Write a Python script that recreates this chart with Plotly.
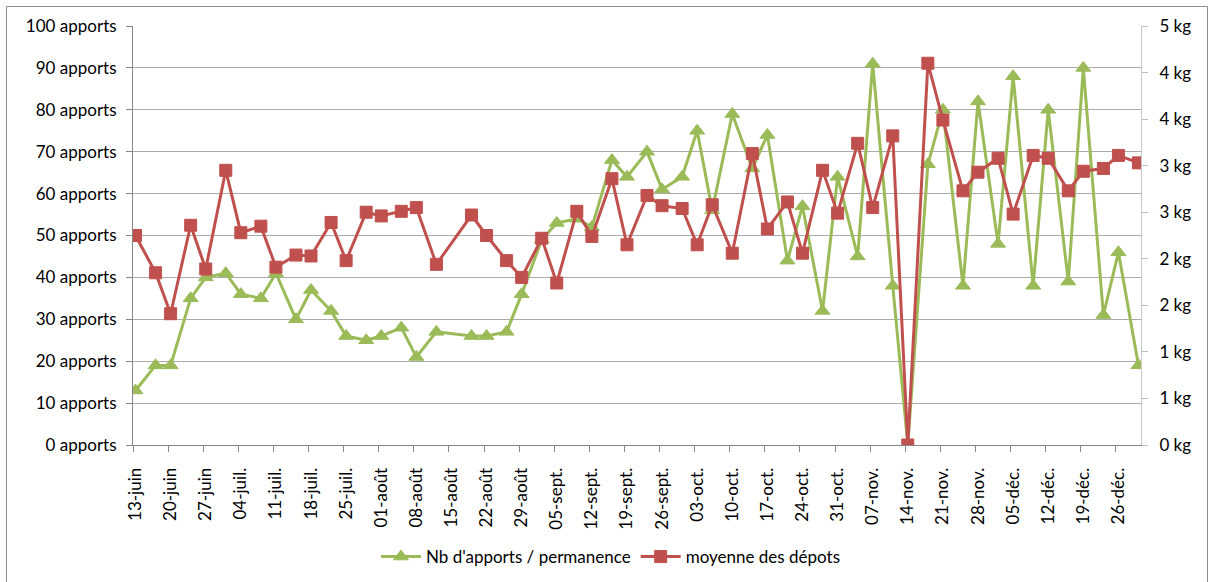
import plotly.graph_objects as go
from datetime import datetime, timedelta

# ---- data ----
dates = ["2011-06-13","2011-06-17","2011-06-20","2011-06-24","2011-06-27","2011-07-01","2011-07-04",
         "2011-07-08","2011-07-11","2011-07-15","2011-07-18","2011-07-22","2011-07-25","2011-07-29",
         "2011-08-01","2011-08-05","2011-08-08","2011-08-12","2011-08-19","2011-08-22","2011-08-26",
         "2011-08-29","2011-09-02","2011-09-05","2011-09-09","2011-09-12","2011-09-16","2011-09-19",
         "2011-09-23","2011-09-26","2011-09-30","2011-10-03","2011-10-06","2011-10-10","2011-10-14",
         "2011-10-17","2011-10-21","2011-10-24","2011-10-28","2011-10-31","2011-11-04","2011-11-07",
         "2011-11-11","2011-11-14","2011-11-18","2011-11-21","2011-11-25","2011-11-28","2011-12-02",
         "2011-12-05","2011-12-09","2011-12-12","2011-12-16","2011-12-19","2011-12-23","2011-12-26",
         "2011-12-30"]

nb_apports = [13, 19, 19, 35, 40, 41, 36, 35, 41, 30,
              37, 32, 26, 25, 26, 28, 21, 27, 26, 26,
              27, 36, 49, 53, 54, 52, 68, 64, 70, 61,
              64, 75, 56, 79, 66, 74, 44, 57, 32, 64,
              45, 91, 38, 0, 67, 80, 38, 82, 48, 88,
              38, 80, 39, 90, 31, 46, 19]

moyenne_kg = [2.25, 1.85, 1.41, 2.36, 1.89, 2.95, 2.28, 2.35, 1.91, 2.04,
              2.03, 2.39, 1.98, 2.50, 2.46, 2.51, 2.55, 1.94, 2.47, 2.25,
              1.98, 1.80, 2.22, 1.74, 2.51, 2.24, 2.86, 2.15, 2.68, 2.57,
              2.54, 2.15, 2.58, 2.06, 3.13, 2.32, 2.61, 2.06, 2.95, 2.49,
              3.24, 2.55, 3.32, 0.00, 4.10, 3.49, 2.73, 2.93, 3.08, 2.48,
              3.11, 3.08, 2.73, 2.94, 2.97, 3.11, 3.03]

x_tick_dates = ["2011-06-13","2011-06-20","2011-06-27","2011-07-04","2011-07-11","2011-07-18",
                "2011-07-25","2011-08-01","2011-08-08","2011-08-15","2011-08-22","2011-08-29",
                "2011-09-05","2011-09-12","2011-09-19","2011-09-26","2011-10-03","2011-10-10",
                "2011-10-17","2011-10-24","2011-10-31","2011-11-07","2011-11-14","2011-11-21",
                "2011-11-28","2011-12-05","2011-12-12","2011-12-19","2011-12-26"]
x_tick_labels = ["13-juin","20-juin","27-juin","04-juil.","11-juil.","18-juil.","25-juil.",
                 "01-août","08-août","15-août","22-août","29-août","05-sept.","12-sept.",
                 "19-sept.","26-sept.","03-oct.","10-oct.","17-oct.","24-oct.","31-oct.",
                 "07-nov.","14-nov.","21-nov.","28-nov.","05-déc.","12-déc.","19-déc.","26-déc."]

y_left_ticks = [0, 10, 20, 30, 40, 50, 60, 70, 80, 90, 100]
y_left_labels = ["0 apports","10 apports","20 apports","30 apports","40 apports","50 apports",
                 "60 apports","70 apports","80 apports","90 apports","100 apports"]
y_right_ticks = [0, 0.5, 1, 1.5, 2, 2.5, 3, 3.5, 4, 4.5]
y_right_labels = ["0 kg","1 kg","1 kg","2 kg","2 kg","3 kg","3 kg","4 kg","4 kg","5 kg"]

GREEN = "#9BBB59"
RED = "#C0504D"
FONT = "Lato, Liberation Sans, sans-serif"

def shift(d, hours):
    return (datetime.strptime(d, "%Y-%m-%d") + timedelta(hours=hours)).strftime("%Y-%m-%d %H:%M")

fig = go.Figure()
fig.add_trace(go.Scatter(
    x=dates, y=nb_apports, name="Nb d'apports / permanence", mode="lines+markers",
    line=dict(color=GREEN, width=3),
    marker=dict(symbol="triangle-up", size=13, color=GREEN, line=dict(color=GREEN, width=1)),
    yaxis="y"))
fig.add_trace(go.Scatter(
    x=dates, y=moyenne_kg, name="moyenne des dépots", mode="lines+markers",
    line=dict(color=RED, width=3),
    marker=dict(symbol="square", size=12, color=RED, line=dict(color=RED, width=1)),
    yaxis="y2"))

L, R, T, B = 133, 70, 26, 137
W, H = 1211, 582
PW, PH = W - L - R, H - T - B

fig.update_layout(
    width=W, height=H,
    margin=dict(l=L, r=R, t=T, b=B, autoexpand=False),
    paper_bgcolor="white", plot_bgcolor="white",
    font=dict(family=FONT, size=17, color="black"),
    showlegend=True,
    legend=dict(orientation="h", x=(611 - L) / PW, xanchor="center",
                y=(H - B - 557) / PH, yanchor="middle",
                font=dict(size=17), itemwidth=40, tracegroupgap=0),
    xaxis=dict(
        type="date", automargin=False,
        range=[shift(dates[0], -12), shift(dates[-1], 12)],
        tickmode="array", tickvals=x_tick_dates, ticktext=x_tick_labels,
        tickangle=-90, ticks="", ticklabelstandoff=15,
        showgrid=False, zeroline=False,
        showline=True, linecolor="#868686", linewidth=1,
        minor=dict(tickmode="array", tickvals=[shift(d, -12) for d in x_tick_dates],
                   ticks="outside", ticklen=6, tickcolor="#868686", showgrid=False),
    ),
    yaxis=dict(
        automargin=False,
        range=[0, 100], tickmode="array", tickvals=y_left_ticks, ticktext=y_left_labels,
        ticks="outside", ticklen=6, tickcolor="#868686", ticklabelstandoff=6,
        showgrid=True, gridcolor="#ABABAB", gridwidth=1,
        showline=True, linecolor="#868686", linewidth=1, zeroline=False,
    ),
    yaxis2=dict(
        automargin=False,
        range=[0, 4.5], overlaying="y", side="right",
        tickmode="array", tickvals=y_right_ticks, ticktext=y_right_labels,
        ticks="outside", ticklen=6, tickcolor="#BFBFBF", ticklabelstandoff=8,
        showgrid=False, zeroline=False,
        showline=True, linecolor="#C8C8C8", linewidth=1,
    ),
)

# chart border (outer frame)
fig.add_shape(type="rect", xref="paper", yref="paper",
              x0=(6.5 - L) / PW, x1=(1207.5 - L) / PW,
              y0=(H - B - 600) / PH, y1=(H - B - 6.5) / PH,
              line=dict(color="#8C8C8C", width=1), layer="below")

fig.write_html("out.html", config={"displayModeBar": False},
               post_script="document.body.style.margin='0';document.body.style.overflow='hidden';")
